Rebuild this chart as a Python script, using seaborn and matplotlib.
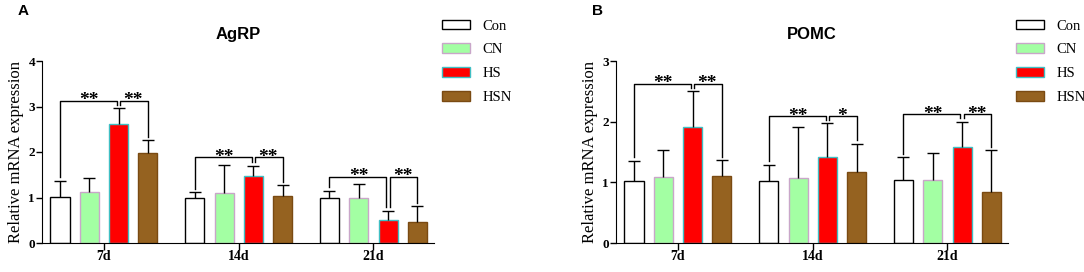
import seaborn as sns
import matplotlib.pyplot as plt
import pandas as pd
import numpy as np

days = ['7d', '14d', '21d']
groups = ['Con', 'CN', 'HS', 'HSN']

# AgRP means and upper SD per group (7d, 14d, 21d)
agrp_con = [1.02, 1.00, 1.00]
agrp_cn = [1.13, 1.09, 1.00]
agrp_hs = [2.61, 1.47, 0.51]
agrp_hsn = [1.97, 1.03, 0.47]
agrp_con_sd = [0.34, 0.11, 0.14]
agrp_cn_sd = [0.30, 0.63, 0.30]
agrp_hs_sd = [0.35, 0.23, 0.20]
agrp_hsn_sd = [0.29, 0.24, 0.34]
agrp_sig = [['**', '**'], ['**', '**'], ['**', '**']]

# POMC
pomc_con = [1.02, 1.02, 1.04]
pomc_cn = [1.09, 1.07, 1.04]
pomc_hs = [1.92, 1.42, 1.58]
pomc_hsn = [1.11, 1.17, 0.84]
pomc_con_sd = [0.33, 0.27, 0.37]
pomc_cn_sd = [0.45, 0.84, 0.44]
pomc_hs_sd = [0.58, 0.55, 0.42]
pomc_hsn_sd = [0.25, 0.46, 0.69]
pomc_sig = [['**', '**'], ['**', '*'], ['**', '**']]

fills = {'Con': '#FFFFFF', 'CN': '#A3FFA3', 'HS': '#FF0000', 'HSN': '#956220'}
edges = {'Con': '#000000', 'CN': '#C9A6C9', 'HS': '#3FBFC4', 'HSN': '#7A4A12'}


def make_df(con, cn, hs, hsn, con_sd, cn_sd, hs_sd, hsn_sd):
    rows = []
    for g, m, s in zip(groups, [con, cn, hs, hsn], [con_sd, cn_sd, hs_sd, hsn_sd]):
        for d, mv, sv in zip(days, m, s):
            rows.append({'day': d, 'group': g, 'mean': mv, 'sd': sv})
    return pd.DataFrame(rows)


agrp = make_df(agrp_con, agrp_cn, agrp_hs, agrp_hsn,
               agrp_con_sd, agrp_cn_sd, agrp_hs_sd, agrp_hsn_sd)
pomc = make_df(pomc_con, pomc_cn, pomc_hs, pomc_hsn,
               pomc_con_sd, pomc_cn_sd, pomc_hs_sd, pomc_hsn_sd)

fig = plt.figure(figsize=(10.84, 2.72), dpi=100)
axA = fig.add_axes([42/1084, 1-243/272, 392/1084, 182/272])
axB = fig.add_axes([616/1084, 1-243/272, 392/1084, 182/272])

serif = 'Liberation Serif'
sans = 'Liberation Sans'


def draw(ax, df, sig, ymax, title, letter):
    sns.barplot(data=df, x='day', y='mean', hue='group', order=days,
                hue_order=groups, palette=fills, saturation=1, errorbar=None,
                width=0.87, gap=0.35, linewidth=1.0, legend=False, ax=ax)
    tops = {}
    xs = {}
    for g, cont in zip(groups, ax.containers):
        sub = df[df['group'] == g].set_index('day').loc[days]
        for i, p in enumerate(cont.patches):
            p.set_edgecolor(edges[g])
            x = p.get_x() + p.get_width() / 2
            top = p.get_height() + sub['sd'].iloc[i]
            ax.vlines(x, p.get_height(), top, color='black', lw=1.0, zorder=3)
            ax.hlines(top, x - 0.045, x + 0.045, color='black', lw=1.0, zorder=3)
            tops[(g, i)] = top
            xs[(g, i)] = x
    # significance brackets
    for i in range(len(days)):
        h = max(tops[(g, i)] for g in groups) + 0.04 * ymax
        xc, xh, xn = xs[('Con', i)], xs[('HS', i)], xs[('HSN', i)]
        d = 0.012
        gap = 0.02 * ymax
        ax.plot([xc, xc, xh - d, xh - d],
                [tops[('Con', i)] + gap, h, h, tops[('HS', i)] + gap],
                color='black', lw=1.0, zorder=3)
        ax.plot([xh + d, xh + d, xn, xn],
                [tops[('HS', i)] + gap, h, h, tops[('HSN', i)] + gap],
                color='black', lw=1.0, zorder=3)
        for (x0, x1), s in zip([(xc, xh), (xh, xn)], sig[i]):
            ax.annotate(s, ((x0 + x1) / 2, h), xytext=(0, -6),
                        textcoords='offset points', ha='center', va='bottom',
                        fontsize=14, fontweight='bold', family=serif)
    ax.set_xlim(-0.46, 2.45)
    ax.set_ylim(0, ymax)
    ax.set_yticks(np.arange(0, ymax + 1))
    ax.spines['top'].set_visible(False)
    ax.spines['right'].set_visible(False)
    ax.tick_params(axis='y', length=4, width=1, pad=1, labelsize=9.5)
    ax.tick_params(axis='x', length=5, width=1, pad=0, labelsize=10)
    for lab in ax.get_xticklabels() + ax.get_yticklabels():
        lab.set_fontfamily(serif)
        lab.set_fontweight('bold')
    ax.set_xlabel('')
    ax.set_ylabel('Relative mRNA expression', family=serif, fontsize=12, labelpad=3)
    ax.set_title(title, family=sans, fontweight='bold', fontsize=12, pad=16)
    ax.text(-0.062, 1.235, letter, transform=ax.transAxes, family=sans,
            fontweight='bold', fontsize=11, ha='left', va='bottom')
    handles = list(ax.containers)
    leg = ax.legend([c.patches[0] for c in handles], groups, loc='upper left',
                    bbox_to_anchor=(1.005, 1.26), frameon=False,
                    prop={'family': serif, 'size': 10.5}, handlelength=1.9,
                    handleheight=0.65, labelspacing=0.75, handletextpad=0.9,
                    borderaxespad=0)
    leg.set_clip_on(False)


draw(axA, agrp, agrp_sig, 4, 'AgRP', 'A')
draw(axB, pomc, pomc_sig, 3, 'POMC', 'B')

fig.savefig('out.png', dpi=100)
